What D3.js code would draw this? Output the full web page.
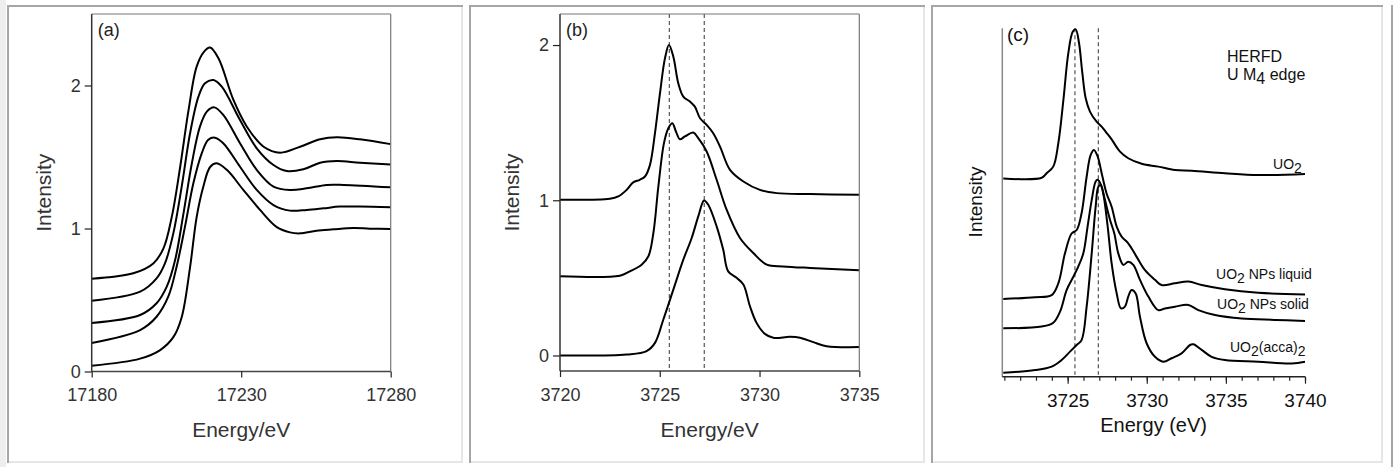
<!DOCTYPE html>
<html>
<head>
<meta charset="utf-8">
<script src="https://cdn.jsdelivr.net/npm/d3@7"></script>
<style>
  body { margin: 0; background: #fff; }
  svg text { font-family: "Liberation Sans", Arial, sans-serif; }
</style>
</head>
<body>
<div id="chart"></div>
<script>
// ---- panel (a): U L3 edge spectra, five stacked curves, bottom to top
const aCurve1 = [[17180,0.04],[17196.2,0.09],[17202.9,0.15],[17207.3,0.24],[17210.1,0.38],[17212.9,0.73],[17215.1,1.08],[17217.3,1.29],[17219.6,1.43],[17221.8,1.456],[17225.2,1.41],[17230.7,1.27],[17236.3,1.13],[17241.9,1.01],[17246.3,0.973],[17249.7,0.966],[17255.2,0.985],[17260.8,0.994],[17267.5,1.003],[17273,0.999],[17280,0.996]];
const aCurve2 = [[17180,0.20],[17196.2,0.29],[17201.7,0.383],[17205.6,0.523],[17208.4,0.733],[17211.2,1.013],[17214,1.316],[17216.8,1.526],[17219,1.62],[17221.2,1.635],[17224,1.596],[17229.6,1.432],[17235.2,1.27],[17240.8,1.164],[17246.3,1.125],[17251.9,1.13],[17257.5,1.141],[17263,1.153],[17269.7,1.153],[17280,1.148]];
const aCurve3 = [[17180,0.34],[17196.2,0.395],[17201.7,0.477],[17205.1,0.593],[17207.9,0.78],[17210.7,1.106],[17213.5,1.456],[17216.2,1.712],[17218.5,1.817],[17221,1.847],[17224,1.794],[17229.6,1.596],[17235.2,1.41],[17240.8,1.293],[17246.3,1.269],[17251.9,1.281],[17258.6,1.305],[17264.2,1.305],[17280,1.288]];
const aCurve4 = [[17180,0.495],[17196.2,0.558],[17201.7,0.651],[17204.5,0.756],[17207.3,0.966],[17210.1,1.293],[17212.9,1.666],[17215.7,1.922],[17217.9,2.015],[17220.7,2.038],[17223.5,1.992],[17229.6,1.759],[17235.2,1.561],[17240.8,1.444],[17245.2,1.402],[17250.8,1.414],[17256.4,1.46],[17262,1.472],[17269.7,1.46],[17280,1.447]];
const aCurve5 = [[17180,0.649],[17193.9,0.687],[17200.6,0.756],[17204,0.861],[17206.8,1.083],[17209.6,1.432],[17212.4,1.829],[17215.1,2.132],[17217.6,2.237],[17219.6,2.265],[17222.4,2.19],[17227.4,1.899],[17231.9,1.712],[17237.5,1.572],[17243,1.53],[17249.7,1.572],[17256.4,1.624],[17262,1.638],[17269.7,1.624],[17280,1.59]];
const aXTicks = [17180, 17230, 17280];
const aYTicks = [0, 1, 2];

// ---- panel (b): three stacked spectra, top to bottom
const bTop = [[3720,1.003],[3722.5,1.01],[3722.92,1.025],[3723.34,1.067],[3723.67,1.115],[3724.0,1.132],[3724.26,1.153],[3724.51,1.228],[3724.76,1.432],[3725.01,1.689],[3725.26,1.914],[3725.46,2.0],[3725.68,1.925],[3725.93,1.753],[3726.18,1.668],[3726.51,1.636],[3726.76,1.603],[3727.02,1.528],[3727.35,1.486],[3727.68,1.432],[3728.02,1.346],[3728.52,1.196],[3729.19,1.121],[3730.02,1.067],[3730.86,1.046],[3732.53,1.04],[3735,1.035]];
const bMid = [[3720,0.51],[3723.0,0.514],[3723.5,0.542],[3724.09,0.585],[3724.43,0.639],[3724.68,0.789],[3724.93,1.089],[3725.21,1.368],[3725.43,1.464],[3725.63,1.496],[3725.81,1.443],[3726.01,1.393],[3726.26,1.411],[3726.68,1.436],[3726.93,1.4],[3727.35,1.314],[3727.85,1.132],[3728.35,0.939],[3729.02,0.757],[3729.69,0.66],[3730.36,0.585],[3731.19,0.574],[3732.53,0.564],[3735,0.549]];
const bBottom = [[3720,0],[3723.34,0.006],[3724.34,0.028],[3724.76,0.081],[3725.18,0.232],[3725.68,0.424],[3726.18,0.617],[3726.6,0.757],[3726.93,0.896],[3727.22,0.999],[3727.43,0.971],[3727.85,0.832],[3728.18,0.682],[3728.43,0.542],[3728.85,0.5],[3729.19,0.457],[3729.52,0.317],[3729.85,0.21],[3730.27,0.139],[3730.69,0.114],[3731.52,0.12],[3732.03,0.114],[3732.69,0.086],[3733.36,0.06],[3735,0.054]];
const bXTicks = [3720, 3725, 3730, 3735];
const bYTicks = [0, 1, 2];
const bMarkers = [3725.48, 3727.23];

// ---- panel (c): HERFD U M4 edge (arbitrary units)
const cUO2 = [[3720.93,5.69],[3723.36,5.71],[3723.67,5.84],[3724.09,6.03],[3724.41,6.70],[3724.73,7.94],[3725.04,9.28],[3725.32,9.90],[3725.51,9.97],[3725.72,9.57],[3725.93,8.71],[3726.14,7.99],[3726.41,7.61],[3726.83,7.32],[3727.15,7.18],[3727.46,7.0],[3727.78,6.81],[3728.31,6.46],[3728.83,6.27],[3729.68,6.11],[3730.73,6.03],[3731.78,5.93],[3732.84,5.91],[3734.94,5.84],[3737.05,5.79],[3740,5.82]];
const cLiquid = [[3720.93,2.23],[3722.94,2.28],[3723.99,2.34],[3724.41,2.68],[3724.83,3.54],[3725.25,4.11],[3725.57,4.21],[3725.88,4.69],[3726.2,5.74],[3726.45,6.36],[3726.66,6.51],[3726.9,6.32],[3727.15,5.84],[3727.46,5.26],[3727.78,4.88],[3728.1,4.31],[3728.41,4.02],[3728.83,3.83],[3729.36,3.44],[3729.89,3.06],[3730.52,2.78],[3730.94,2.63],[3731.78,2.68],[3732.63,2.73],[3733.47,2.63],[3734.94,2.51],[3737.05,2.41],[3740,2.36]];
const cSolid = [[3720.93,1.39],[3723.36,1.44],[3724.09,1.55],[3724.52,1.87],[3724.94,2.49],[3725.36,2.87],[3725.67,3.16],[3725.99,3.54],[3726.26,4.31],[3726.52,5.07],[3726.77,5.60],[3726.9,5.65],[3727.11,5.50],[3727.36,5.07],[3727.68,4.50],[3727.95,4.11],[3728.2,3.54],[3728.52,3.21],[3728.83,3.30],[3729.15,3.21],[3729.57,2.78],[3730.1,2.30],[3730.73,1.91],[3731.15,1.96],[3731.78,2.01],[3732.63,2.06],[3733.26,1.91],[3734.31,1.77],[3736.0,1.67],[3738.1,1.63],[3740,1.60]];
const cAcca = [[3720.93,0.11],[3722.94,0.19],[3723.99,0.29],[3724.62,0.48],[3725.15,0.72],[3725.57,0.91],[3725.88,1.05],[3726.2,2.01],[3726.52,3.54],[3726.77,4.88],[3726.94,5.45],[3727.09,5.50],[3727.25,5.26],[3727.53,4.31],[3727.78,3.25],[3728.1,2.39],[3728.37,1.96],[3728.62,2.01],[3728.83,2.30],[3729.04,2.49],[3729.3,2.39],[3729.57,1.72],[3729.99,0.96],[3730.52,0.57],[3731.05,0.43],[3731.57,0.53],[3732.2,0.67],[3732.73,0.91],[3732.94,0.93],[3733.47,0.77],[3734.1,0.57],[3734.94,0.48],[3737.05,0.43],[3739.16,0.38],[3740,0.43]];
const cXTicks = [3725, 3730, 3735, 3740];
const cMinorTicks = d3.range(3721, 3741, 1);
const cMarkers = [3725.46, 3726.94];
const cLabels = [
  {parts: [["UO",0],["2",1]], x: 3737.98, y: 5.95},
  {parts: [["UO",0],["2",1],[" NPs liquid",0]], x: 3734.38, y: 2.8},
  {parts: [["UO",0],["2",1],[" NPs solid",0]], x: 3734.44, y: 1.95},
  {parts: [["UO",0],["2",1],["(acca)",0],["2",1]], x: 3735.26, y: 0.72}
];

const W = 1394, H = 467;
const FONT = "'Liberation Sans', Arial, sans-serif";
const svg = d3.select("#chart").append("svg")
  .attr("width", W).attr("height", H);

// panel boxes (inset style frames)
svg.append("rect").attr("x", 0).attr("y", 0).attr("width", 6).attr("height", H).attr("fill", "#eeeeee");
const boxes = [[7, 463], [469, 925], [931, 1383]];
boxes.forEach(([x0, x1]) => {
  svg.append("line").attr("x1", x0).attr("x2", x1).attr("y1", 6).attr("y2", 6).attr("stroke", "#a6a6a6").attr("stroke-width", 2);
  svg.append("line").attr("x1", x0 + 1).attr("x2", x0 + 1).attr("y1", 5).attr("y2", 463).attr("stroke", "#a6a6a6").attr("stroke-width", 2);
  svg.append("line").attr("x1", x1 - 1).attr("x2", x1 - 1).attr("y1", 7).attr("y2", 463).attr("stroke", "#e6e6e6").attr("stroke-width", 2);
  svg.append("line").attr("x1", x0 + 2).attr("x2", x1).attr("y1", 462).attr("y2", 462).attr("stroke", "#e6e6e6").attr("stroke-width", 2);
});
svg.append("line").attr("x1", 1392).attr("x2", 1392).attr("y1", 5).attr("y2", H).attr("stroke", "#a6a6a6").attr("stroke-width", 2);

function styleAxis(g, color, size) {
  g.select(".domain").remove();
  g.selectAll(".tick line").attr("stroke", "#222").attr("stroke-width", 1.2);
  g.selectAll(".tick text").attr("fill", color).style("font-size", size + "px").style("font-family", FONT);
}

function drawCurves(g, x, y, curves) {
  const line = d3.line()
    .x(d => x(d[0])).y(d => y(d[1]))
    .curve(d3.curveCatmullRom.alpha(0.5));
  curves.forEach(c => {
    g.append("path").datum(c).attr("d", line)
      .attr("fill", "none").attr("stroke", "#000").attr("stroke-width", 2)
      .attr("stroke-linejoin", "round");
  });
}

// framed panel used for (a) and (b)
function framedPanel(opts) {
  const x = d3.scaleLinear().domain(opts.xDomain).range([opts.left, opts.right]);
  const y = d3.scaleLinear().domain(opts.yDomain).range([opts.bottom, opts.top]);
  const g = svg.append("g");

  if (opts.markers) {
    opts.markers.forEach(m => {
      g.append("line").attr("x1", x(m)).attr("x2", x(m)).attr("y1", opts.top).attr("y2", opts.bottom)
        .attr("stroke", "#555").attr("stroke-width", 1.2).attr("stroke-dasharray", "4,3");
    });
  }
  drawCurves(g, x, y, opts.curves);

  // frame
  g.append("line").attr("x1", opts.left).attr("x2", opts.right).attr("y1", opts.top).attr("y2", opts.top).attr("stroke", "#777").attr("stroke-width", 1.2);
  g.append("line").attr("x1", opts.right).attr("x2", opts.right).attr("y1", opts.top).attr("y2", opts.bottom).attr("stroke", "#777").attr("stroke-width", 1.2);
  g.append("line").attr("x1", opts.left).attr("x2", opts.right).attr("y1", opts.bottom).attr("y2", opts.bottom).attr("stroke", "#444").attr("stroke-width", 1.5);
  g.append("line").attr("x1", opts.left).attr("x2", opts.left).attr("y1", opts.top).attr("y2", opts.bottom).attr("stroke", "#333").attr("stroke-width", 1.5);

  const xa = g.append("g").attr("transform", `translate(0,${opts.bottom})`)
    .call(d3.axisBottom(x).tickValues(opts.xTicks).tickSize(6).tickPadding(11).tickFormat(d3.format("d")));
  styleAxis(xa, "#333", 18);
  const ya = g.append("g").attr("transform", `translate(${opts.left},0)`)
    .call(d3.axisLeft(y).tickValues(opts.yTicks).tickSize(7).tickPadding(4).tickFormat(d3.format("d")));
  styleAxis(ya, "#333", 18);

  g.append("text").attr("x", (opts.left + opts.right) / 2).attr("y", 437)
    .attr("text-anchor", "middle").attr("fill", "#333").style("font-size", "21px").text("Energy/eV");
  g.append("text").attr("transform", `translate(${opts.left - 41},${(opts.top + opts.bottom) / 2}) rotate(-90)`)
    .attr("text-anchor", "middle").attr("fill", "#333").style("font-size", "21px").text("Intensity");
  g.append("text").attr("x", opts.left + 6).attr("y", 36)
    .attr("fill", "#222").style("font-size", "18px").text(opts.tag);
}

framedPanel({
  left: 91.7, right: 390.7, top: 14, bottom: 371.5,
  xDomain: [17180, 17280], yDomain: [0, 2.5],
  xTicks: aXTicks, yTicks: aYTicks,
  curves: [aCurve1, aCurve2, aCurve3, aCurve4, aCurve5], tag: "(a)"
});

framedPanel({
  left: 560, right: 859.3, top: 14, bottom: 371,
  xDomain: [3720, 3735], yDomain: [-0.1, 2.2],
  xTicks: bXTicks, yTicks: bYTicks, markers: bMarkers,
  curves: [bTop, bMid, bBottom], tag: "(b)"
});

// ---- panel (c)
(function () {
  const left = 1002.3, right = 1305, top = 28.3, bottom = 376.7;
  const x = d3.scaleLinear().domain([3720.87, 3740]).range([left, right]);
  const y = d3.scaleLinear().domain([0, 10]).range([bottom, top]);
  const g = svg.append("g");

  cMarkers.forEach(m => {
    g.append("line").attr("x1", x(m)).attr("x2", x(m)).attr("y1", top).attr("y2", bottom - 2)
      .attr("stroke", "#555").attr("stroke-width", 1.2).attr("stroke-dasharray", "4,3");
  });
  drawCurves(g, x, y, [cUO2, cLiquid, cSolid, cAcca]);

  g.append("line").attr("x1", left).attr("x2", left).attr("y1", top).attr("y2", bottom).attr("stroke", "#888").attr("stroke-width", 1.5);
  g.append("line").attr("x1", left).attr("x2", right).attr("y1", bottom).attr("y2", bottom).attr("stroke", "#222").attr("stroke-width", 1.5);

  const minor = g.append("g").attr("transform", `translate(0,${bottom})`)
    .call(d3.axisBottom(x).tickValues(cMinorTicks).tickSize(4).tickFormat(""));
  styleAxis(minor, "#111", 19);
  const major = g.append("g").attr("transform", `translate(0,${bottom})`)
    .call(d3.axisBottom(x).tickValues(cXTicks).tickSize(7).tickPadding(10).tickFormat(d3.format("d")));
  styleAxis(major, "#111", 19);

  g.append("text").attr("x", (left + right) / 2).attr("y", 432)
    .attr("text-anchor", "middle").attr("fill", "#111").style("font-size", "20px").text("Energy (eV)");
  g.append("text").attr("transform", `translate(982,202) rotate(-90)`)
    .attr("text-anchor", "middle").attr("fill", "#111").style("font-size", "19px").text("Intensity");
  g.append("text").attr("x", 1007).attr("y", 41).attr("fill", "#111").style("font-size", "19px").text("(c)");

  const h1 = g.append("text").attr("x", 1227).attr("y", 62).attr("fill", "#111").style("font-size", "16px");
  h1.text("HERFD");
  const h2 = g.append("text").attr("x", 1227).attr("y", 80).attr("fill", "#111").style("font-size", "16px");
  h2.append("tspan").text("U M");
  h2.append("tspan").attr("dy", 4).text("4");
  h2.append("tspan").attr("dy", -4).text(" edge");

  cLabels.forEach(l => {
    const t = g.append("text").attr("x", x(l.x)).attr("y", y(l.y)).attr("fill", "#111").style("font-size", "14px");
    let prev = 0;
    l.parts.forEach(([s, sub]) => {
      const dy = (sub - prev) * 4;
      t.append("tspan").attr("dy", dy).text(s);
      prev = sub;
    });
  });
})();
</script>
</body>
</html>
